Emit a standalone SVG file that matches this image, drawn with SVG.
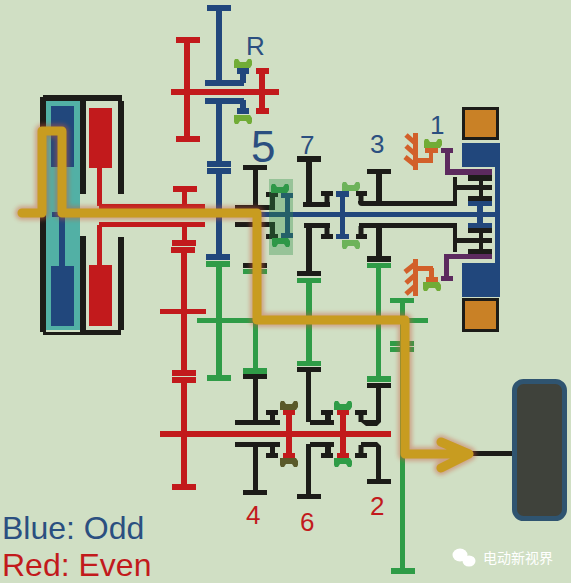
<svg xmlns="http://www.w3.org/2000/svg" width="571" height="583" viewBox="0 0 571 583">
<style>
.k{fill:#1c1c18}.r{fill:#c21a1c}.b{fill:#21477c}.g{fill:#2f9c47}.p{fill:#5c2a5e}.o{fill:#d2602a}.lg{fill:#71ac36}
.ks{stroke:#1c1c18;stroke-width:5;fill:none}
.os{stroke:#d2602a;stroke-width:5;fill:none}
.t{font-family:"Liberation Sans",Arial,sans-serif}
.tb{fill:#2b4f80}.tr{fill:#c21a1c}
.gold{fill:none;stroke:#c89c20;stroke-width:9;stroke-linejoin:round;stroke-linecap:round}
.glow{fill:none;stroke:#c8583c;stroke-width:14;stroke-linejoin:round;stroke-linecap:round;opacity:.45;filter:url(#bl)}
</style>
<defs>
<filter id="bl" x="-10%" y="-10%" width="120%" height="120%"><feGaussianBlur stdDeviation="2"/></filter>
<path id="sy" d="M-9,0V-7L-8,-9H-5L-3,-6H3L5,-9H8L9,-7V-3L7,0Z"/>
<path id="zig" d="M0,0V37H5V0Z"/>
</defs>
<rect width="571" height="583" fill="#d0dfc4"/>
<g id="clutch">
<rect x="46" y="101" width="34" height="229" fill="#52b0a5"/>
<path class="k" d="M43,95H122V101H124V194H118V101H86V194H80V101H46V332H80V236H86V330H118V237H124V330H121V335H43V332H40V97H43Z"/>
<rect class="b" x="51" y="106" width="23" height="61"/><rect class="b" x="51" y="266" width="23" height="60"/><rect class="b" x="59" y="211" width="6" height="55"/>
<rect class="r" x="89" y="108" width="23" height="60"/><rect class="r" x="89" y="265" width="23" height="61"/>
<rect class="r" x="97" y="168" width="5" height="38"/><rect class="r" x="97" y="225" width="5" height="40"/>
<rect class="r" x="99" y="204" width="106" height="5"/><rect class="r" x="99" y="222" width="106" height="5"/>
</g>
<g id="connectors">
<rect class="b" x="52" y="212" width="443" height="5"/>
<rect class="r" x="160" y="431" width="231" height="6"/>
<rect class="r" x="171" y="89" width="108" height="6"/>
<rect class="g" x="197" y="318" width="231" height="5"/>
<rect class="g" x="400" y="298" width="5" height="276"/>
<rect class="k" x="470" y="451" width="44" height="5"/>
</g>
<g id="gear-red-upper">
<rect class="r" x="184" y="37" width="6" height="105"/><rect class="r" x="176" y="37" width="24" height="6"/><rect class="r" x="176" y="136" width="24" height="6"/>
<rect class="r" x="259" y="68" width="6" height="46"/><rect class="r" x="256" y="68" width="13" height="6"/><rect class="r" x="256" y="108" width="13" height="6"/>
</g>
<g id="gear-R">
<rect class="b" x="216" y="5" width="6" height="78"/><rect class="b" x="207" y="5" width="24" height="6"/>
<rect class="b" x="205" y="80" width="39" height="6"/><rect class="b" x="205" y="98" width="39" height="6"/>
<rect class="b" x="240" y="70" width="6" height="13"/><rect class="b" x="240" y="100" width="6" height="10"/>
<rect class="b" x="237" y="68" width="12" height="6"/><rect class="b" x="237" y="108" width="12" height="6"/>
<use href="#sy" x="243" y="68" class="lg"/><use href="#sy" transform="translate(243,115) scale(1,-1)" class="lg"/>
<rect class="b" x="216" y="104" width="6" height="57"/><rect class="b" x="207" y="161" width="24" height="6"/><rect class="b" x="207" y="168" width="24" height="6"/>
<rect class="b" x="216" y="174" width="6" height="80"/><rect class="b" x="206" y="254" width="24" height="6"/>
<rect class="g" x="206" y="261" width="24" height="6"/><rect class="g" x="216" y="267" width="6" height="108"/><rect class="g" x="207" y="375" width="24" height="6"/>
</g>
<g id="gear-red-lower">
<rect class="r" x="173" y="186" width="24" height="6"/><rect class="r" x="182" y="192" width="5" height="12"/><rect class="r" x="182" y="227" width="5" height="13"/>
<rect class="r" x="172" y="240" width="24" height="6"/><rect class="r" x="171" y="247" width="24" height="6"/><rect class="r" x="181" y="253" width="6" height="117"/>
<rect class="r" x="160" y="309" width="46" height="5"/><rect class="r" x="172" y="370" width="24" height="6"/><rect class="r" x="172" y="377" width="24" height="6"/>
<rect class="r" x="181" y="383" width="6" height="101"/><rect class="r" x="172" y="484" width="24" height="6"/>
</g>
<g id="gear-5">
<rect class="k" x="243" y="165" width="24" height="5"/><rect class="k" x="253" y="170" width="5" height="35"/><rect class="k" x="235" y="205" width="40" height="5"/>
<rect class="k" x="270" y="192" width="5" height="18"/><rect class="k" x="266" y="192" width="12" height="5"/>
<rect class="k" x="235" y="222" width="40" height="5"/><rect class="k" x="270" y="222" width="5" height="17"/><rect class="k" x="266" y="234" width="12" height="5"/>
<rect class="k" x="253" y="227" width="5" height="36"/><rect class="k" x="243" y="263" width="24" height="5"/>
<rect class="g" x="243" y="269" width="24" height="5"/><rect class="g" x="253" y="274" width="5" height="94"/><rect class="g" x="243" y="368" width="24" height="6"/>
<rect class="b" x="285" y="193" width="5" height="45"/><rect class="b" x="281" y="193" width="12" height="5"/><rect class="b" x="281" y="233" width="12" height="5"/>
<use href="#sy" x="280" y="193" class="g"/><use href="#sy" transform="translate(281,238) scale(1,-1)" class="g"/>
<rect x="269" y="179" width="24" height="76" fill="#2f8f47" opacity=".35"/>
</g>
<g id="gear-7">
<rect class="k" x="297" y="156" width="24" height="6"/><rect class="k" x="306" y="162" width="6" height="45"/><rect class="k" x="303" y="202" width="27" height="5"/>
<path class="ks" d="M327,195V204"/><rect class="k" x="321" y="191" width="12" height="5"/>
<rect class="k" x="304" y="223" width="26" height="5"/><rect class="k" x="306" y="228" width="6" height="44"/><rect class="k" x="297" y="271" width="24" height="5"/>
<path class="ks" d="M327,224V236"/><rect class="k" x="321" y="234" width="12" height="5"/>
<rect class="g" x="297" y="278" width="24" height="5"/><rect class="g" x="306" y="283" width="6" height="79"/><rect class="g" x="297" y="361" width="24" height="5"/>
<rect class="b" x="340" y="191" width="5" height="48"/><rect class="b" x="336" y="191" width="13" height="6"/><rect class="b" x="336" y="234" width="13" height="5"/>
<use href="#sy" x="351" y="191" fill="#6db35a"/><use href="#sy" transform="translate(351,240) scale(1,-1)" fill="#6db35a"/>
</g>
<g id="gear-3">
<rect class="k" x="367" y="169" width="24" height="5"/><rect class="k" x="376" y="174" width="6" height="28"/>
<path class="k" d="M358,201H453V177H457V206H362Q358,206 358,202Z"/><path class="ks" d="M361,195V203"/><rect class="k" x="356" y="191" width="11" height="5"/>
<rect class="k" x="359" y="223" width="98" height="5"/><path class="ks" d="M361,226V235"/><rect class="k" x="356" y="234" width="11" height="5"/>
<rect class="k" x="453" y="225" width="4" height="27"/>
<rect class="k" x="376" y="228" width="6" height="28"/><rect class="k" x="367" y="256" width="24" height="6"/>
<rect class="g" x="367" y="263" width="24" height="5"/><rect class="g" x="376" y="268" width="5" height="108"/><rect class="g" x="367" y="376" width="24" height="6"/>
</g>
<g id="gear-1-sync">
<rect class="b" x="462" y="143" width="38" height="24"/><rect class="b" x="495" y="143" width="5" height="154"/><rect class="b" x="462" y="263" width="38" height="34"/>
<rect class="b" x="468" y="201" width="24" height="5"/><rect class="b" x="468" y="223" width="24" height="5"/><rect class="b" x="477" y="206" width="6" height="17"/>
<rect class="p" x="441" y="148" width="12" height="5"/><rect class="p" x="445" y="153" width="5" height="22"/><rect class="p" x="445" y="169" width="47" height="6"/>
<rect class="p" x="441" y="276" width="12" height="5"/><rect class="p" x="444" y="255" width="5" height="21"/><rect class="p" x="444" y="254" width="48" height="5"/>
<rect class="k" x="468" y="175" width="24" height="6"/><rect class="k" x="457" y="185" width="35" height="5"/><rect class="k" x="468" y="196" width="24" height="5"/><rect class="k" x="479" y="181" width="4" height="15"/>
<rect class="k" x="468" y="228" width="24" height="5"/><rect class="k" x="457" y="238" width="35" height="5"/><rect class="k" x="468" y="249" width="24" height="5"/><rect class="k" x="479" y="233" width="4" height="16"/>
<rect x="463.500" y="108.500" width="34" height="30" fill="#c98126" stroke="#1c1c18" stroke-width="3"/>
<rect x="463.500" y="299.500" width="34" height="31" fill="#c98126" stroke="#1c1c18" stroke-width="3"/>
<use href="#zig" x="413" y="133" class="o"/><use href="#zig" x="413" y="259" class="o"/>
<path class="os" d="M406,135L415,143M406,146L415,154M405,157L415,165"/>
<path class="os" d="M406,294L415,286M406,283L415,275M405,272L415,264"/>
<rect class="o" x="418" y="158" width="15" height="5"/><rect class="o" x="429" y="150" width="4" height="13"/><rect class="o" x="425" y="148" width="13" height="5"/>
<rect class="o" x="418" y="266" width="15" height="5"/><rect class="o" x="429" y="268" width="5" height="12"/><rect class="o" x="426" y="277" width="12" height="5"/>
<use href="#sy" x="433" y="148" class="lg"/><use href="#sy" transform="translate(432,282) scale(1,-1)" class="lg"/>
</g>
<g id="gear-4">
<rect class="k" x="243" y="374" width="24" height="5"/><rect class="k" x="253" y="379" width="5" height="41"/><rect class="k" x="235" y="420" width="45" height="5"/>
<rect class="k" x="270" y="415" width="5" height="6"/><rect class="k" x="266" y="410" width="12" height="5"/>
<rect class="k" x="235" y="442" width="45" height="5"/><rect class="k" x="270" y="447" width="5" height="7"/><rect class="k" x="266" y="453" width="12" height="5"/>
<rect class="k" x="253" y="447" width="5" height="43"/><rect class="k" x="243" y="490" width="24" height="5"/>
<rect class="r" x="286" y="410" width="6" height="48"/><rect class="r" x="283" y="410" width="12" height="5"/><rect class="r" x="283" y="453" width="12" height="5"/>
<use href="#sy" x="289" y="410" fill="#5a5a2a"/><use href="#sy" transform="translate(289,458) scale(1,-1)" fill="#5a5a2a"/>
</g>
<g id="gear-6">
<rect class="k" x="297" y="367" width="24" height="5"/><rect class="k" x="306" y="372" width="5" height="50"/><rect class="k" x="310" y="420" width="24" height="5"/>
<rect class="k" x="325" y="415" width="6" height="6"/><rect class="k" x="321" y="410" width="12" height="5"/>
<rect class="k" x="310" y="442" width="24" height="5"/><rect class="k" x="306" y="444" width="5" height="52"/><rect class="k" x="297" y="494" width="24" height="5"/>
<rect class="k" x="325" y="447" width="6" height="7"/><rect class="k" x="321" y="453" width="12" height="5"/>
<rect class="r" x="340" y="410" width="6" height="48"/><rect class="r" x="337" y="410" width="12" height="5"/><rect class="r" x="337" y="453" width="12" height="5"/>
<use href="#sy" x="343" y="410" class="g"/><use href="#sy" transform="translate(343,458) scale(1,-1)" class="g"/>
</g>
<g id="gear-2">
<rect class="k" x="367" y="383" width="24" height="5"/><rect class="k" x="376" y="388" width="5" height="32"/>
<path class="k" d="M361,420H376L381,418V422L377,426H366L361,422Z"/><path class="ks" d="M361,414V422"/><rect class="k" x="355" y="410" width="12" height="5"/>
<path class="k" d="M361,442H377L381,446V481H376V447H366L361,447Z"/><path class="ks" d="M361,445V455"/><rect class="k" x="355" y="453" width="12" height="5"/>
<rect class="k" x="367" y="479" width="24" height="5"/>
</g>
<g id="output-gear">
<rect class="g" x="390" y="298" width="24" height="5"/><rect class="g" x="390" y="341" width="24" height="5"/><rect class="g" x="390" y="347" width="24" height="5"/><rect class="g" x="391" y="568" width="24" height="6"/>
</g>
<g id="wheel"><rect x="514.500" y="381.500" width="50" height="137" rx="9" fill="#3f423b" stroke="#2f5470" stroke-width="5"/></g>
<g id="power-path">
<path class="glow" d="M22,213H42V131H62V213H257V320H405V454H468M441,442L469,454L441,468"/>
<path class="gold" d="M22,213H42V131H62V213H257V320H405V454H468M441,442L469,454L441,468"/>
</g>
<g id="labels">
<text class="t tb" x="246" y="55" font-size="26">R</text>
<text class="t tb" x="251" y="162" font-size="44">5</text>
<text class="t tb" x="300" y="154" font-size="26">7</text>
<text class="t tb" x="370" y="153" font-size="26">3</text>
<text class="t tb" x="430" y="134" font-size="26">1</text>
<text class="t tr" x="246" y="524" font-size="26">4</text>
<text class="t tr" x="300" y="531" font-size="26">6</text>
<text class="t tr" x="370" y="515" font-size="26">2</text>
<text class="t tb" x="2" y="539" font-size="32">Blue: Odd</text>
<text class="t tr" x="2" y="576" font-size="32">Red: Even</text>
</g>
<g id="watermark">
<ellipse cx="460" cy="555" rx="7.500" ry="6.500" fill="#fff"/><ellipse cx="469" cy="561" rx="6.500" ry="5.500" fill="#fff"/>
<text x="483" y="563" font-size="14" fill="#fff" font-family="'Noto Sans CJK SC',sans-serif">电动新视界</text>
</g>
</svg>
